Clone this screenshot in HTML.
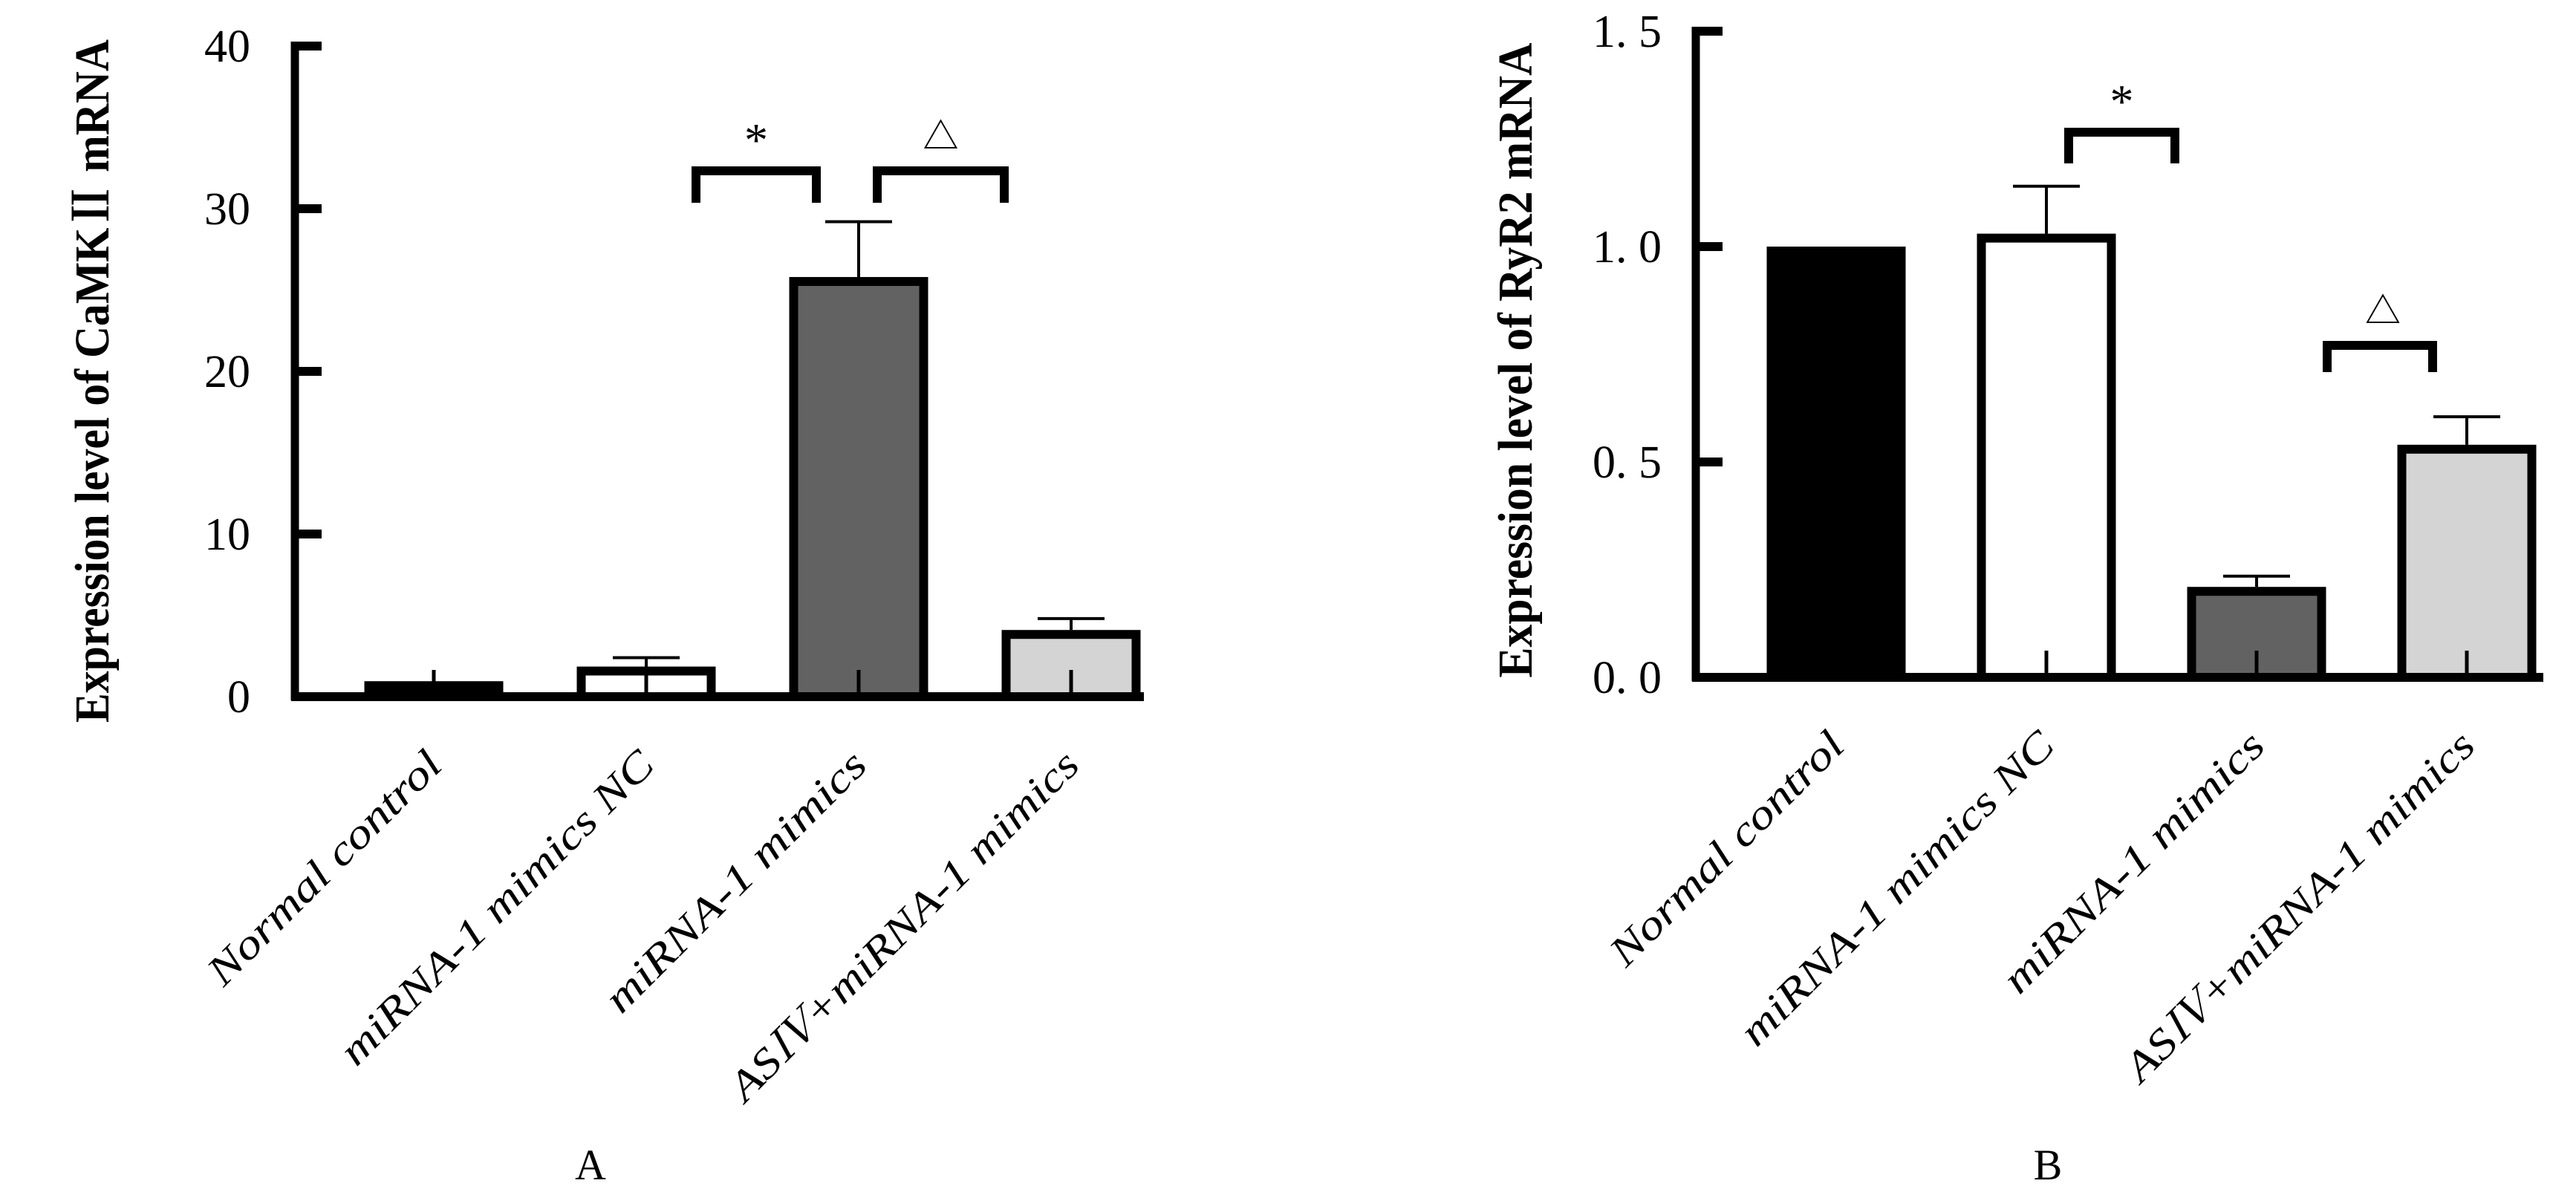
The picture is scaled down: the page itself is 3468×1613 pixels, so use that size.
<!DOCTYPE html>
<html><head><meta charset="utf-8"><style>
html,body{margin:0;padding:0;background:#fff;}
svg{display:block;}
text{font-family:"Liberation Serif","Noto Serif CJK SC",serif;fill:#000;}
</style></head><body>
<svg id="chart" width="3468" height="1613" viewBox="0 0 3468 1613" xmlns="http://www.w3.org/2000/svg"></svg>
<script>
// Shared data
const categories = ["Normal control", "miRNA-1 mimics NC", "miRNA-1 mimics", "ASⅣ+miRNA-1 mimics"];
const barColors = ["#000000", "#ffffff", "#626262", "#d4d4d4"];
// Panel A: CaMKII
const camkValues = [0.95, 1.85, 25.8, 4.1];
const camkErrors = [0, 0.55, 3.4, 0.7];
const camkTicks = [0, 10, 20, 30, 40];
const camkTickLabels = ["0", "10", "20", "30", "40"];
// Panel B: RyR2
const ryrValues = [1.0, 1.03, 0.21, 0.54];
const ryrErrors = [0.0, 0.11, 0.025, 0.065];
const ryrTicks = [0, 0.5, 1.0, 1.5];
const ryrTickLabels = ["0. 0", "0. 5", "1. 0", "1. 5"];

const NS = "http://www.w3.org/2000/svg";
const svg = document.getElementById("chart");
function mk(tag, attrs, parent) {
  const e = document.createElementNS(NS, tag);
  for (const k in attrs) e.setAttribute(k, attrs[k]);
  (parent || svg).appendChild(e);
  return e;
}

function panel(cfg) {
  const g = mk("g", {});
  
  
  const y = v => cfg.base - (v - 0) * cfg.pxPerUnit;
  const x = i => cfg.x0 + i * cfg.pitch;
  const top = y(cfg.ticks[cfg.ticks.length - 1]);

  cfg.values.forEach((v, i) => {
    const cx = x(i), hw = cfg.barW / 2, sw = 12;
    const r = mk("rect", {x: cx - hw + sw/2, y: y(v) + sw/2, width: cfg.barW - sw, height: Math.max(0, cfg.base - y(v) - sw/2),
      fill: barColors[i], stroke: "#000", "stroke-width": sw}, g);
    
    
    const st = mk("line", {x1: cx, x2: cx, y1: cfg.base, y2: cfg.base - 36, stroke: "#000", "stroke-width": 5}, g);
    
    
    if (cfg.errors[i] > 0) {
      const e1 = mk("line", {x1: cx, x2: cx, y1: y(v), y2: y(v + cfg.errors[i]), stroke: "#000", "stroke-width": 4}, g);
      
      
      const e2 = mk("line", {x1: cx - 45, x2: cx + 45, y1: y(v + cfg.errors[i]), y2: y(v + cfg.errors[i]), stroke: "#000", "stroke-width": 4}, g);
      
      
    }
  });

  const ya = mk("line", {x1: cfg.axisX, x2: cfg.axisX, y1: top - 6, y2: cfg.base + 5, stroke: "#000", "stroke-width": 11}, g);
  
  
  const xa = mk("line", {x1: cfg.axisX - 5, x2: cfg.axisEnd, y1: cfg.base, y2: cfg.base, stroke: "#000", "stroke-width": 12}, g);
  
  

  cfg.ticks.forEach((t, i) => {
    if (t !== 0) {
      const tk = mk("line", {x1: cfg.axisX, x2: cfg.axisX + 36, y1: y(t), y2: y(t), stroke: "#000", "stroke-width": 12}, g);
      
      
    }
    const tl = mk("text", {x: cfg.labelRight, y: y(t) + 21, "text-anchor": "end", "font-size": 62}, g);
    tl.textContent = cfg.tickLabels[i];
    
    
  });

  categories.forEach((c, i) => {
    const ex = x(i) + 14, ey = cfg.base + 95;
    const t = mk("text", {x: 0, y: 0, "text-anchor": "end", "font-size": 56, "font-style": "italic",
      textLength: cfg.labelLens[i], lengthAdjust: "spacingAndGlyphs",
      transform: `translate(${ex},${ey}) rotate(-45)`}, g);
    t.textContent = c;
    
    
  });

  const yt = mk("text", {x: 0, y: 0, "text-anchor": "middle", "font-size": 66, "font-weight": "bold",
    textLength: cfg.titleLen, lengthAdjust: "spacingAndGlyphs",
    transform: `translate(${cfg.titleX},${cfg.titleY}) rotate(-90)`}, g);
  yt.textContent = cfg.title;
  
  

  cfg.brackets.forEach(b => {
    const p = mk("path", {d: `M${b.x1},${b.yb} V${b.yt} H${b.x2} V${b.yb}`, fill: "none", stroke: "#000", "stroke-width": 12}, g);
    
    
    const s = mk("text", {x: (b.x1 + b.x2) / 2 + b.dx, y: b.yt - (b.sym === "*" ? 20 : 30), "text-anchor": "middle", "font-size": b.sym === "*" ? 64 : 48}, g);
    s.textContent = b.sym;
    
    
  });

  const pl = mk("text", {x: cfg.panelX, y: 1588, "text-anchor": "middle", "font-size": 58}, g);
  pl.textContent = cfg.panelLabel;
  
  
}

panel({
  name: "panel-a-camkii", values: camkValues, errors: camkErrors, ticks: camkTicks, tickLabels: camkTickLabels,
  base: 938, pxPerUnit: 21.9, x0: 584, pitch: 286, barW: 187, axisX: 397, axisEnd: 1540, labelRight: 337,
  labelLens: [420, 572, 472, 640],
  title: "Expression level of CaMKⅡ mRNA", titleLen: 920, titleX: 146, titleY: 513,
  brackets: [{x1: 937, x2: 1099, yt: 230, yb: 273, sym: "*", dx: 0}, {x1: 1181, x2: 1352, yt: 230, yb: 273, sym: "△", dx: 0}],
  panelX: 795, panelLabel: "A"
});
panel({
  name: "panel-b-ryr2", values: ryrValues, errors: ryrErrors, ticks: ryrTicks, tickLabels: ryrTickLabels,
  base: 912, pxPerUnit: 580, x0: 2472, pitch: 283, barW: 187, axisX: 2283, axisEnd: 3424, labelRight: 2237,
  labelLens: [420, 572, 472, 640],
  title: "Expression level of RyR2 mRNA", titleLen: 855, titleX: 2062, titleY: 485,
  brackets: [{x1: 2785, x2: 2928, yt: 178, yb: 220, sym: "*", dx: 0}, {x1: 3133, x2: 3275, yt: 465, yb: 501, sym: "△", dx: 4}],
  panelX: 2757, panelLabel: "B"
});
</script>
</body></html>
